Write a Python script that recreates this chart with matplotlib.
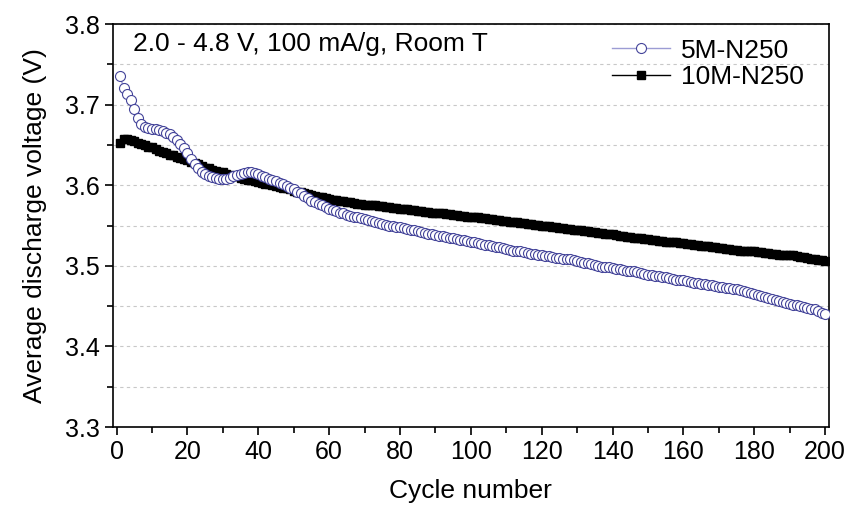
import matplotlib
matplotlib.use("Agg")
import matplotlib.pyplot as plt
import numpy as np
from matplotlib.ticker import MultipleLocator

plt.rcParams['font.family'] = ['Liberation Sans', 'DejaVu Sans']

cycles = np.arange(1, 201)

# 5M-N250 average discharge voltage (V)
v_5m = [
    3.735, 3.721, 3.713, 3.706, 3.694, 3.684, 3.676, 3.672, 3.671, 3.670,
    3.670, 3.669, 3.667, 3.665, 3.663, 3.660, 3.656, 3.651, 3.646, 3.640,
    3.632, 3.626, 3.621, 3.617, 3.614, 3.612, 3.610, 3.609, 3.608, 3.608,
    3.608, 3.609, 3.611, 3.613, 3.614, 3.615, 3.616, 3.616, 3.615, 3.614,
    3.612, 3.610, 3.608, 3.606, 3.605, 3.603, 3.601, 3.599, 3.597, 3.595,
    3.592, 3.590, 3.587, 3.584, 3.581, 3.579, 3.577, 3.575, 3.573, 3.571,
    3.569, 3.568, 3.566, 3.565, 3.563, 3.562, 3.561, 3.560, 3.559, 3.558,
    3.557, 3.556, 3.554, 3.553, 3.552, 3.551, 3.550, 3.549, 3.548, 3.548,
    3.547, 3.546, 3.545, 3.544, 3.543, 3.542, 3.541, 3.540, 3.539, 3.538,
    3.537, 3.537, 3.536, 3.535, 3.534, 3.533, 3.532, 3.532, 3.531, 3.530,
    3.529, 3.528, 3.527, 3.526, 3.526, 3.524, 3.523, 3.523, 3.522, 3.521,
    3.520, 3.519, 3.519, 3.518, 3.517, 3.516, 3.515, 3.515, 3.514, 3.513,
    3.512, 3.512, 3.511, 3.510, 3.510, 3.509, 3.509, 3.508, 3.507, 3.506,
    3.505, 3.504, 3.503, 3.502, 3.501, 3.500, 3.499, 3.498, 3.498, 3.497,
    3.496, 3.496, 3.495, 3.494, 3.494, 3.493, 3.492, 3.491, 3.490, 3.489,
    3.489, 3.488, 3.487, 3.486, 3.486, 3.485, 3.484, 3.483, 3.483, 3.482,
    3.481, 3.480, 3.479, 3.479, 3.478, 3.477, 3.476, 3.476, 3.475, 3.474,
    3.474, 3.473, 3.472, 3.471, 3.471, 3.470, 3.469, 3.468, 3.466, 3.465,
    3.464, 3.463, 3.461, 3.460, 3.459, 3.458, 3.456, 3.455, 3.454, 3.453,
    3.452, 3.451, 3.450, 3.449, 3.448, 3.447, 3.446, 3.444, 3.442, 3.440,
]

# 10M-N250 average discharge voltage (V)
v_10m = [
    3.652, 3.657, 3.657, 3.656, 3.655, 3.653, 3.651, 3.650, 3.648, 3.647,
    3.645, 3.643, 3.641, 3.640, 3.638, 3.637, 3.635, 3.634, 3.632, 3.631,
    3.629, 3.627, 3.626, 3.624, 3.622, 3.621, 3.619, 3.618, 3.617, 3.616,
    3.614, 3.613, 3.612, 3.611, 3.609, 3.608, 3.607, 3.606, 3.605, 3.604,
    3.603, 3.602, 3.601, 3.600, 3.599, 3.598, 3.597, 3.596, 3.595, 3.593,
    3.592, 3.591, 3.590, 3.589, 3.588, 3.587, 3.586, 3.585, 3.584, 3.583,
    3.582, 3.582, 3.581, 3.580, 3.579, 3.579, 3.578, 3.577, 3.577, 3.576,
    3.576, 3.575, 3.575, 3.574, 3.574, 3.573, 3.573, 3.572, 3.572, 3.571,
    3.570, 3.570, 3.569, 3.569, 3.568, 3.568, 3.567, 3.567, 3.566, 3.566,
    3.565, 3.565, 3.564, 3.564, 3.563, 3.563, 3.562, 3.562, 3.561, 3.561,
    3.560, 3.560, 3.559, 3.559, 3.558, 3.558, 3.557, 3.557, 3.556, 3.556,
    3.555, 3.554, 3.554, 3.553, 3.553, 3.552, 3.552, 3.551, 3.551, 3.550,
    3.550, 3.549, 3.548, 3.548, 3.547, 3.547, 3.546, 3.546, 3.545, 3.545,
    3.544, 3.543, 3.543, 3.542, 3.542, 3.541, 3.541, 3.540, 3.539, 3.539,
    3.538, 3.537, 3.537, 3.536, 3.536, 3.535, 3.535, 3.534, 3.533, 3.533,
    3.532, 3.532, 3.531, 3.531, 3.530, 3.530, 3.529, 3.529, 3.528, 3.528,
    3.527, 3.527, 3.526, 3.526, 3.525, 3.524, 3.524, 3.523, 3.523, 3.522,
    3.522, 3.521, 3.521, 3.520, 3.520, 3.519, 3.519, 3.518, 3.518, 3.518,
    3.517, 3.517, 3.516, 3.516, 3.515, 3.515, 3.514, 3.514, 3.514, 3.513,
    3.513, 3.512, 3.511, 3.511, 3.510, 3.509, 3.508, 3.507, 3.507, 3.506,
]

fig = plt.figure(figsize=(8.51, 5.12), dpi=100)
ax = fig.add_axes([0.1328, 0.166, 0.841, 0.787])

ax.plot(cycles, v_10m, "-s", color="black", lw=1.0, ms=6,
        mfc="black", mec="black", label="10M-N250", zorder=3)
ax.plot(cycles, v_5m, "-o", color="#9c9cd4", lw=1.0, ms=7.2,
        mfc="white", mec="#44449a", mew=0.8, label="5M-N250", zorder=4)

ax.set_xlim(-1, 201)
ax.set_ylim(3.3, 3.8)
ax.xaxis.set_major_locator(MultipleLocator(20))
ax.xaxis.set_minor_locator(MultipleLocator(10))
ax.yaxis.set_major_locator(MultipleLocator(0.1))
ax.set_yticks(np.arange(3.35, 3.8, 0.05), minor=True)

ax.grid(True, axis="y", which="both", color="#c8c8c8", ls=(0, (3, 3)), lw=0.8)
ax.set_axisbelow(True)

ax.tick_params(which="both", direction="out", top=False, right=False,
               labelsize=18, width=1.2)
ax.tick_params(which="major", length=6)
ax.tick_params(which="minor", length=4)
for s in ax.spines.values():
    s.set_linewidth(1.2)

ax.set_xlabel("Cycle number", fontsize=19, labelpad=11)
ax.set_ylabel("Average discharge voltage (V)", fontsize=19, labelpad=13)

ax.text(0.028, 0.95, "2.0 - 4.8 V, 100 mA/g, Room T", transform=ax.transAxes,
        fontsize=19, va="center", ha="left")

h, l = ax.get_legend_handles_labels()
ax.legend(h[::-1], l[::-1], loc="upper right", bbox_to_anchor=(0.985, 1.0),
          frameon=False, fontsize=19, handlelength=2.2, handletextpad=0.4,
          labelspacing=0.1, borderaxespad=0.15)

fig.savefig("out.png", dpi=100)
